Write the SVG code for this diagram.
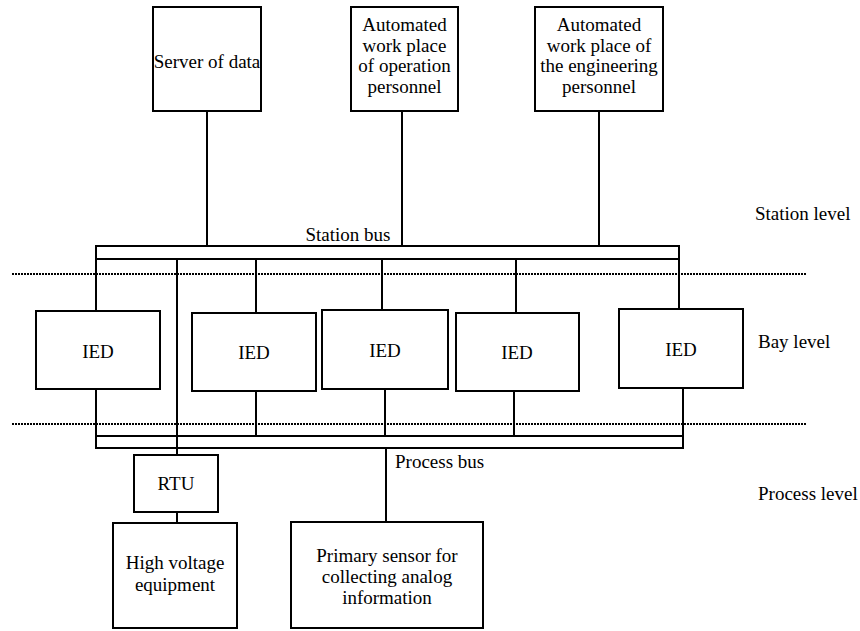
<svg xmlns="http://www.w3.org/2000/svg" width="860" height="631" viewBox="0 0 860 631">
<style>
.box{fill:#fff;stroke:#000;stroke-width:2}
.ln{stroke:#000;stroke-width:2;fill:none}
.dot{stroke:#000;stroke-width:2;stroke-dasharray:2 1;fill:none}
text{font-family:"Liberation Serif","Times New Roman",serif;font-size:19px;fill:#000}
.c{text-anchor:middle}
</style>
<rect width="860" height="631" fill="#fff"/>
<g id="connectors">
<line class="dot" x1="12" y1="274" x2="806" y2="274"/>
<line class="dot" x1="12" y1="424" x2="806" y2="424"/>
<line class="ln" x1="207" y1="111" x2="207" y2="246"/>
<line class="ln" x1="402" y1="111" x2="402" y2="246"/>
<line class="ln" x1="599" y1="111" x2="599" y2="246"/>
<line class="ln" x1="96" y1="259" x2="96" y2="311"/>
<line class="ln" x1="177" y1="259" x2="177" y2="455"/>
<line class="ln" x1="256" y1="259" x2="256" y2="313"/>
<line class="ln" x1="382" y1="259" x2="382" y2="310"/>
<line class="ln" x1="516" y1="259" x2="516" y2="313"/>
<line class="ln" x1="679" y1="259" x2="679" y2="309"/>
<line class="ln" x1="96" y1="389" x2="96" y2="436"/>
<line class="ln" x1="256" y1="391" x2="256" y2="436"/>
<line class="ln" x1="385" y1="389" x2="385" y2="436"/>
<line class="ln" x1="514" y1="391" x2="514" y2="436"/>
<line class="ln" x1="683" y1="388" x2="683" y2="436"/>
<line class="ln" x1="386" y1="448" x2="386" y2="522"/>
<line class="ln" x1="177" y1="512" x2="177" y2="523"/>
</g>
<g id="station-bus">
<rect x="96" y="246" width="583" height="13" fill="none" stroke="#000" stroke-width="2"/>
<text x="348" y="241" class="c">Station bus</text>
</g>
<g id="process-bus">
<rect x="96" y="436" width="587" height="12" fill="none" stroke="#000" stroke-width="2"/>
<line class="ln" x1="177" y1="436" x2="177" y2="448"/>
<text x="395" y="468">Process bus</text>
</g>
<g id="server">
<rect class="box" x="153" y="7" width="108" height="104"/>
<text x="207" y="68" class="c">Server of data</text>
</g>
<g id="operation">
<rect class="box" x="351" y="7" width="107" height="104"/>
<text x="404.5" y="31" class="c">Automated</text>
<text x="404.5" y="52" class="c">work place</text>
<text x="404.5" y="72" class="c">of operation</text>
<text x="404.5" y="93" class="c">personnel</text>
</g>
<g id="engineering">
<rect class="box" x="535" y="7" width="128" height="104"/>
<text x="599" y="31" class="c">Automated</text>
<text x="599" y="52" class="c">work place of</text>
<text x="599" y="72" class="c">the engineering</text>
<text x="599" y="93" class="c">personnel</text>
</g>
<g id="ied1">
<rect class="box" x="36" y="311" width="124" height="78"/>
<text x="98" y="358" class="c">IED</text>
</g>
<g id="ied2">
<rect class="box" x="192" y="313" width="124" height="78"/>
<text x="254" y="359" class="c">IED</text>
</g>
<g id="ied3">
<rect class="box" x="322" y="310" width="126" height="79"/>
<text x="385" y="357" class="c">IED</text>
</g>
<g id="ied4">
<rect class="box" x="456" y="313" width="123" height="78"/>
<text x="517" y="359" class="c">IED</text>
</g>
<g id="ied5">
<rect class="box" x="619" y="309" width="124" height="79"/>
<text x="681" y="356" class="c">IED</text>
</g>
<g id="rtu">
<rect class="box" x="134" y="455" width="84" height="57"/>
<text x="176" y="490" class="c">RTU</text>
</g>
<g id="hv">
<rect class="box" x="113" y="523" width="124" height="105"/>
<text x="175" y="569" class="c">High voltage</text>
<text x="175" y="591" class="c">equipment</text>
</g>
<g id="sensor">
<rect class="box" x="291" y="522" width="192" height="106"/>
<text x="387" y="562" class="c">Primary sensor for</text>
<text x="387" y="583" class="c">collecting analog</text>
<text x="387" y="604" class="c">information</text>
</g>
<g id="levels">
<text x="755" y="220">Station level</text>
<text x="758" y="348">Bay level</text>
<text x="758" y="500">Process level</text>
</g>
</svg>
